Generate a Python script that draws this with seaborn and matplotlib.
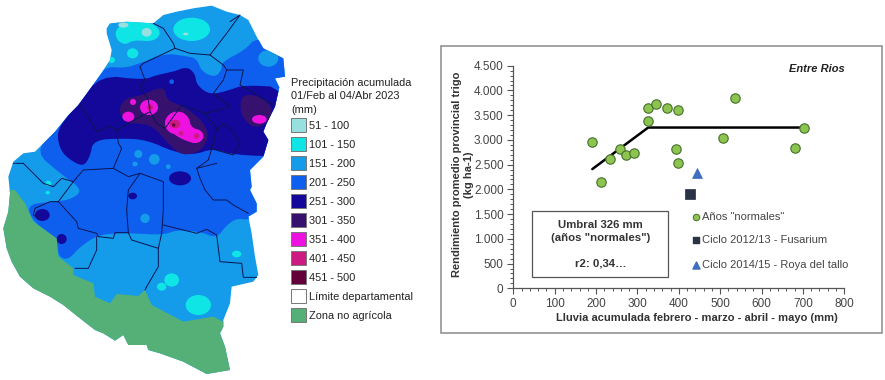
import numpy as np
import seaborn as sns
import matplotlib.pyplot as plt
from matplotlib.patches import Polygon, Ellipse, Rectangle
from matplotlib.ticker import FuncFormatter, MultipleLocator

# scatter values
lluvia = [191, 212, 234, 258, 272, 292, 325, 325, 345, 371, 399, 393, 399, 506, 535, 681, 703]
rendimiento = [2964, 2156, 2607, 2823, 2701, 2742, 3382, 3645, 3725, 3645, 3597, 2823, 2533, 3038, 3853, 2843, 3240]
fusarium_x = [426]
fusarium_y = [1906]
roya_x = [443]
roya_y = [2338]
modelo_x = [191, 326, 705]
modelo_y = [2410, 3250, 3250]

leyenda_rangos = ["51 - 100", "101 - 150", "151 - 200", "201 - 250", "251 - 300", "301 - 350",
                  "351 - 400", "401 - 450", "451 - 500", "Límite departamental", "Zona no agrícola"]
leyenda_colores = ["#98E0E0", "#10E5E5", "#149CEA", "#0F5FEF", "#13089A", "#36126E",
                   "#EE12E0", "#CC1A82", "#63003A", "#FFFFFF", "#55B077"]

# map shapes, traced at 3x the picture's pixels
provincia = [(320,85),(330,70),(380,65),(460,70),(490,45),(530,35),(580,25),(635,17),(680,35),(720,45),(745,60),(770,110),(790,145),(850,175),(855,230),(825,235),(838,262),(825,320),(800,370),(790,395),(805,420),(790,470),(780,480),(750,510),(755,560),(750,570),(770,610),(770,635),(745,650),(755,700),(765,770),(775,825),(760,845),(695,860),(690,910),(670,960),(670,980),(660,1000),(675,1040),(690,1110),(620,1122),(550,1085),(480,1060),(445,1050),(440,1035),(385,1035),(370,1005),(345,1022),(310,1000),(285,990),(240,955),(190,915),(150,890),(100,865),(60,830),(35,785),(20,745),(10,685),(25,635),(30,580),(25,530),(40,485),(70,460),(105,455),(165,395),(205,345),(235,315),(300,225),(330,180),(335,150),(320,100)]
zona_no_agricola = [(30,570),(45,570),(75,610),(100,665),(170,715),(175,770),(220,805),(220,825),(280,850),(285,890),(330,910),(350,882),(415,888),(435,870),(455,915),(550,965),(640,950),(670,965),(720,965),(720,1140),(0,1140),(0,570)]
banda_201 = [(320,200),(375,204),(420,190),(495,160),(555,168),(590,175),(605,215),(645,232),(665,210),(665,186),(735,150),(770,110),(870,150),(870,640),(745,660),(710,655),(680,675),(650,715),(600,695),(530,690),(490,705),(400,700),(350,700),(295,705),(240,740),(205,780),(175,770),(170,715),(100,665),(80,615),(150,605),(210,600),(250,570),(180,520),(105,455),(165,395),(205,345),(235,315),(300,225)]
banda_251 = [(300,225),(430,240),(470,225),(520,215),(560,200),(585,220),(590,255),(630,285),(690,270),(730,255),(860,262),(860,470),(700,465),(640,445),(580,465),(520,455),(440,420),(370,415),(280,420),(270,470),(250,500),(210,480),(180,450),(170,395),(205,345),(235,315)]
banda_301_oeste = [(355,330),(375,295),(430,285),(470,265),(495,265),(500,300),(540,315),(590,345),(625,390),(620,430),(590,460),(540,465),(500,425),(460,380),(420,370),(375,370)]
banda_301_este = [(720,310),(730,285),(770,285),(820,320),(805,370),(760,385),(725,350)]
banda_351 = [(493,362),(515,335),(548,335),(568,355),(572,380),(605,395),(612,415),(590,430),(565,425),(535,412),(505,388)]
banda_101 = [(345,90),(350,120),(375,135),(400,120),(460,125),(485,100),(460,68),(380,62)]

# (x, y, width, height, colour index)
manchas = [(540,535,66,42,4),(127,645,44,36,4),(185,717,30,30,4),(398,588,26,20,4),(515,245,14,14,3),
           (805,175,60,50,2),(435,655,28,28,2),(415,462,24,24,2),(463,478,32,32,2),(405,492,16,14,2),(505,500,14,14,2),
           (575,88,110,70,1),(398,160,34,30,1),(335,180,20,18,1),(145,550,18,16,1),(595,915,76,60,1),(515,840,44,40,1),(485,860,28,24,1),(710,762,28,20,1),(143,578,14,10,1),
           (370,75,30,16,0),(440,97,30,26,0),(557,102,16,8,0),
           (385,350,36,30,6),(399,306,18,18,6),(447,322,54,46,6),(778,358,44,26,6),(530,370,70,66,6),(585,408,50,42,6),
           (450,322,18,18,7),(525,372,32,26,7),(543,400,14,14,7),(590,408,16,16,7),
           (450,322,5,5,8),(521,375,10,10,8)]

limites = [
    [(460,70),(490,85),(520,130),(525,145),(430,190),(420,200),(435,240),(420,260),(445,300),(450,335),(470,370),(495,385),(545,315),(615,340),(690,320),(640,280),(670,240),(680,210),(730,210),(720,255),(820,315)],
    [(525,145),(570,160),(630,165),(670,195),(680,210)],
    [(630,165),(680,100),(720,45),(690,65)],
    [(240,315),(270,360),(290,395),(330,378),(350,390),(430,345),(450,335)],
    [(350,390),(355,430),(365,445),(340,505),(250,510),(220,545),(185,535),(160,560),(130,550),(100,520),(70,490),(40,490)],
    [(615,340),(650,385),(640,430),(625,480),(590,505),(600,535),(615,570),(640,600),(680,600),(700,615),(745,640)],
    [(650,390),(670,370),(700,395),(720,430),(700,465),(630,445)],
    [(340,505),(385,530),(420,520),(490,545),(490,570),(490,630),(485,700),(475,745),(475,800),(440,860),(435,870)],
    [(420,520),(385,570),(380,630),(385,698),(395,720),(475,745)],
    [(590,505),(630,495),(650,490)],
    [(220,545),(175,605),(230,665),(235,685),(290,700),(295,710),(340,715),(345,698),(385,698)],
    [(490,675),(530,685),(590,700),(620,688),(650,705),(660,785),(725,790),(730,832),(770,832)],
    [(290,710),(290,750),(265,805),(225,805)],
    [(175,605),(150,605),(105,625),(100,645),(115,655)],
]

# chart legend
serie_nombres = ['Años "normales"', "Ciclo 2012/13 - Fusarium", "Ciclo 2014/15 - Roya del tallo"]
serie_y = [1442, 970, 478]

sns.set_theme(style="white")
plt.rcParams["font.family"] = ["Liberation Sans", "DejaVu Sans"]

fig = plt.figure(figsize=(8.85, 3.8), dpi=100)
fig.patch.set_facecolor("white")

# left side: map
mapa = fig.add_axes([0, 0, 1, 1])
mapa.set_xlim(0, 2655)
mapa.set_ylim(1140, 0)
mapa.axis("off")

silueta = Polygon(provincia, closed=True, fc=leyenda_colores[2], ec="none", zorder=1)
mapa.add_patch(silueta)


def suavizar(puntos, pasos=2):
    # corner cutting so the rain zones look less angular
    p = np.array(puntos, dtype=float)
    for _ in range(pasos):
        q = np.roll(p, -1, axis=0)
        p = np.column_stack([0.75 * p + 0.25 * q, 0.25 * p + 0.75 * q]).reshape(-1, 2)
    return p


def zona(puntos, color, z):
    p = Polygon(suavizar(puntos), closed=True, fc=color, ec="none", zorder=z)
    mapa.add_patch(p)
    p.set_clip_path(silueta)


zona(banda_201, leyenda_colores[3], 2)
zona(banda_251, leyenda_colores[4], 3)
zona(banda_301_oeste, leyenda_colores[5], 4)
zona(banda_301_este, leyenda_colores[5], 4)
zona(banda_351, leyenda_colores[6], 5)
zona(banda_101, leyenda_colores[1], 3)
for i, (x, y, w, h, c) in enumerate(manchas):
    e = Ellipse((x, y), w, h, fc=leyenda_colores[c], ec="none", zorder=5 + i * 0.01)
    mapa.add_patch(e)
    e.set_clip_path(silueta)

verde = Polygon(zona_no_agricola, closed=True, fc=leyenda_colores[10], ec="none", zorder=7)
mapa.add_patch(verde)
verde.set_clip_path(silueta)

for tramo in limites:
    xs, ys = zip(*tramo)
    mapa.plot(xs, ys, color="#0b1450", lw=0.7, zorder=8)

# map legend
for i, linea in enumerate(["Precipitación acumulada", "01/Feb al 04/Abr 2023", "(mm)"]):
    mapa.text(873, 249 + i * 40, linea, fontsize=7.9, color="#222222", va="center")
for i, (rango, color) in enumerate(zip(leyenda_rangos, leyenda_colores)):
    y0 = 355 + i * 57
    mapa.add_patch(Rectangle((873, y0), 44, 42, fc=color, ec="#777777", lw=0.7))
    mapa.text(927, y0 + 22, rango, fontsize=7.9, color="#222222", va="center")

# right side: chart frame
mapa.add_patch(Rectangle((1323, 138), 1323, 861, fc="white", ec="#8a8a8a", lw=1.1, zorder=1))

ax = fig.add_axes([513.3 / 885, 1 - 288.3 / 380, 331 / 885, 222.6 / 380])
ax.patch.set_alpha(0)

verde_punto = "#8DC34F"
borde_punto = "#44702A"
azul_oscuro = "#2A3345"
azul_roya = "#3F6FBF"

sns.lineplot(x=modelo_x, y=modelo_y, color="black", lw=1.8, ax=ax, zorder=2, sort=False)
sns.scatterplot(x=lluvia, y=rendimiento, color=verde_punto, edgecolor=borde_punto, s=46, linewidth=0.8, ax=ax, zorder=3)
sns.scatterplot(x=fusarium_x, y=fusarium_y, marker="s", color=azul_oscuro, edgecolor=azul_oscuro, s=42, ax=ax, zorder=3)
sns.scatterplot(x=roya_x, y=roya_y, marker="^", color=azul_roya, edgecolor=azul_roya, s=50, ax=ax, zorder=3)

ax.set_xlim(0, 800)
ax.set_ylim(0, 4500)
sns.despine(ax=ax)
for lado in ["left", "bottom"]:
    ax.spines[lado].set_color("#555555")
    ax.spines[lado].set_linewidth(0.9)
ax.xaxis.set_major_locator(MultipleLocator(100))
ax.xaxis.set_minor_locator(MultipleLocator(20))
ax.yaxis.set_major_locator(MultipleLocator(500))
ax.yaxis.set_minor_locator(MultipleLocator(100))
ax.yaxis.set_major_formatter(FuncFormatter(lambda v, _: f"{int(v):,}".replace(",", ".")))
ax.tick_params(which="major", length=4, width=0.8, color="#555555", labelsize=8.5, labelcolor="#444444",
               bottom=True, left=True, pad=3)
ax.tick_params(which="minor", length=2, width=0.7, color="#555555", bottom=True, left=True)
ax.set_xlabel("Lluvia acumulada febrero - marzo - abril - mayo (mm)", fontsize=8.05, fontweight="bold", color="#333333")
ax.set_ylabel("Rendimiento promedio provincial trigo\n(kg ha-1)", fontsize=8.05, fontweight="bold", color="#333333")
ax.xaxis.set_label_coords(0.555, -0.112)
ax.yaxis.set_label_coords(-0.119, 0.51)

ax.text(1.0, 0.985, "Entre Rios", transform=ax.transAxes, fontsize=8, fontweight="bold", fontstyle="italic",
        color="#222222", ha="right", va="center")

ax.add_patch(Rectangle((46, 222), 329, 1341, fc="white", ec="#555555", lw=0.9, zorder=1))
ax.text(211, 1280, "Umbral 326 mm", fontsize=8.2, fontweight="bold", color="#333333", ha="center", va="center")
ax.text(211, 1010, '(años "normales")', fontsize=8.2, fontweight="bold", color="#333333", ha="center", va="center")
ax.text(211, 492, "r2: 0,34…", fontsize=8.2, fontweight="bold", color="#333333", ha="center", va="center")

ax.scatter(441, serie_y[0], s=22, c=verde_punto, edgecolors=borde_punto, linewidths=0.7, zorder=3)
ax.scatter(441, serie_y[1], s=20, c=azul_oscuro, marker="s", zorder=3)
ax.scatter(441, serie_y[2], s=26, c=azul_roya, marker="^", zorder=3)
for nombre, y in zip(serie_nombres, serie_y):
    ax.text(455, y, nombre, fontsize=8, color="#444444", va="center")

fig.savefig("out.png", dpi=100)
